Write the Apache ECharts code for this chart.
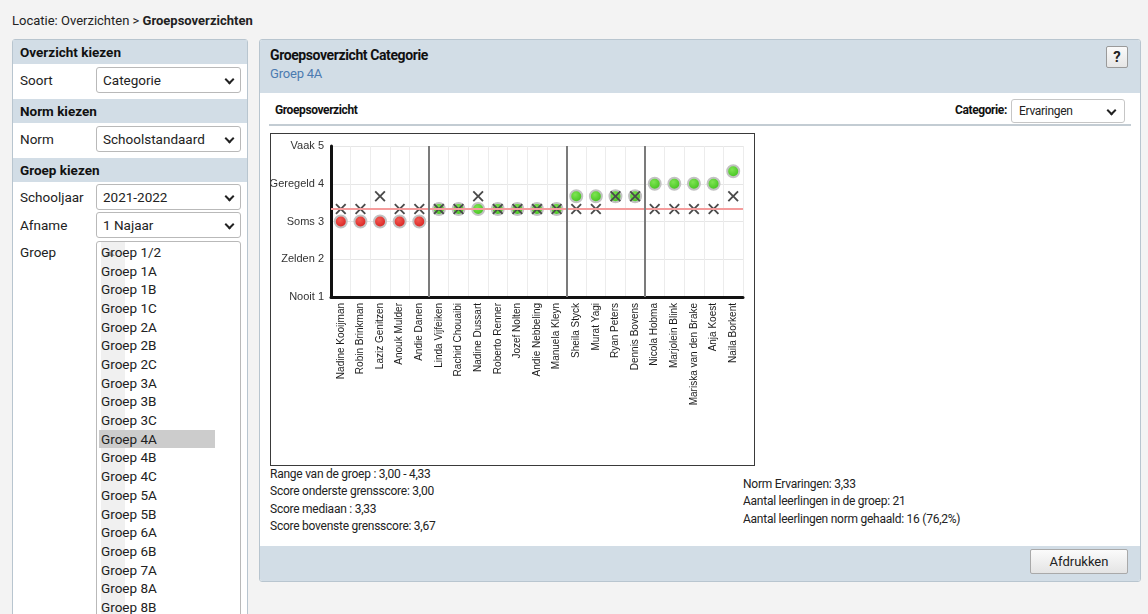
<!DOCTYPE html>
<html>
<head>
<meta charset="utf-8">
<script src="https://cdn.jsdelivr.net/npm/echarts@6/dist/echarts.min.js"></script>
<style>
  html,body{margin:0;padding:0;}
  body{width:1148px;height:614px;overflow:hidden;background:#f3f3f3;font-family:Roboto,"Liberation Sans",sans-serif;color:#222;position:relative;}
  .abs{position:absolute;}
  .crumb{left:12px;top:13px;font-size:13px;color:#222;}
  .crumb b{font-weight:700;}
  .lp{left:12px;top:39px;width:234px;height:600px;background:#fff;border:1px solid #b8c5cf;border-radius:3px;}
  .hdr{position:absolute;left:0;width:234px;height:24px;background:#d2dde6;font-weight:700;font-size:13.5px;line-height:24px;padding-left:7px;box-sizing:border-box;color:#111;}
  .lbl{position:absolute;left:7px;font-size:13.5px;color:#222;}
  .sel{position:absolute;left:83px;width:145px;height:26px;border:1px solid #b9b9b9;border-radius:3px;box-sizing:border-box;font-size:13.5px;line-height:24px;padding-left:6px;background:#fff;color:#222;}
  .chev{position:absolute;right:7px;top:8px;width:7px;height:7px;border-right:2px solid #222;border-bottom:2px solid #222;transform:rotate(45deg);box-sizing:border-box;}
  .list{position:absolute;left:83px;top:201px;width:145px;height:420px;border:1px solid #b9b9b9;border-radius:3px;box-sizing:border-box;background:#fff;overflow:hidden;}
  .list div{position:absolute;left:4px;font-size:13.5px;line-height:18px;color:#222;}
  .scroll{position:absolute;right:0;top:0;width:24px;height:420px;background:#f0f0f0;}
  .tri{position:absolute;left:7px;top:9px;width:0;height:0;border-left:5px solid transparent;border-right:5px solid transparent;border-bottom:5px solid #a8a8a8;}
  .mp{left:259px;top:39px;width:880px;height:541px;background:#fff;border:1px solid #b8c5cf;border-radius:3px;overflow:hidden;}
  .mh{position:absolute;left:0;top:0;width:880px;height:53px;background:#d2dde6;}
  .mf{position:absolute;left:0;top:506px;width:880px;height:35px;background:#d2dde6;}
  .stat{font-size:12px;letter-spacing:-0.25px;color:#222;line-height:17.3px;}
</style>
</head>
<body>
<div class="abs crumb">Locatie: Overzichten &gt; <b>Groepsoverzichten</b></div>

<div class="abs lp">
  <div class="hdr" style="top:0">Overzicht kiezen</div>
  <div class="lbl" style="top:32px">Soort</div>
  <div class="sel" style="top:27px">Categorie<span class="chev"></span></div>
  <div class="hdr" style="top:59px">Norm kiezen</div>
  <div class="lbl" style="top:91px">Norm</div>
  <div class="sel" style="top:86px">Schoolstandaard<span class="chev"></span></div>
  <div class="hdr" style="top:118px">Groep kiezen</div>
  <div class="lbl" style="top:149px">Schooljaar</div>
  <div class="sel" style="top:144px">2021-2022<span class="chev"></span></div>
  <div class="lbl" style="top:177px">Afname</div>
  <div class="sel" style="top:172px">1 Najaar<span class="chev"></span></div>
  <div class="lbl" style="top:204px">Groep</div>
  <div class="list" id="list"><div class="scroll"><div class="tri"></div></div></div>
</div>

<div class="abs mp">
  <div class="mh">
    <div class="abs" style="left:10px;top:7px;font-size:14px;font-weight:700;letter-spacing:-0.4px;color:#111;">Groepsoverzicht Categorie</div>
    <div class="abs" style="left:10px;top:26px;font-size:13px;color:#4c7bb0;letter-spacing:-0.2px;">Groep 4A</div>
    <div class="abs" style="left:846px;top:6px;width:22px;height:22px;box-sizing:border-box;border:1px solid #9a9a9a;border-radius:2px;background:linear-gradient(#fafafa,#e6e6e6);font-weight:700;font-size:15px;line-height:20px;text-align:center;color:#222;">?</div>
  </div>
  <div class="abs" style="left:15px;top:63px;font-size:12px;font-weight:700;letter-spacing:-0.4px;color:#111;">Groepsoverzicht</div>
  <div class="abs" style="left:695px;top:63px;font-size:12px;font-weight:700;letter-spacing:-0.4px;color:#111;">Categorie:</div>
  <div class="abs" style="left:751px;top:59px;width:114px;height:24px;border:1px solid #c6c6c6;border-radius:3px;box-sizing:border-box;font-size:12px;line-height:22px;padding-left:7px;letter-spacing:-0.3px;">Ervaringen<span class="chev" style="top:7px;right:9px"></span></div>
  <div class="abs" style="left:9px;top:84px;width:862px;height:2px;background:#c3ccd3;"></div>
  <div class="abs" style="left:10px;top:93px;width:485px;height:333px;border:1px solid #3a3a3a;box-sizing:border-box;">
    <div id="chart" style="width:483px;height:331px;"></div>
  </div>
  <div class="abs stat" style="left:10px;top:426px;">Range van de groep : 3,00 - 4,33<br>Score onderste grensscore: 3,00<br>Score mediaan : 3,33<br>Score bovenste grensscore: 3,67</div>
  <div class="abs stat" style="left:483px;top:436px;">Norm Ervaringen: 3,33<br>Aantal leerlingen in de groep: 21<br>Aantal leerlingen norm gehaald: 16 (76,2%)</div>
  <div class="mf">
    <div class="abs" style="left:770px;top:3px;width:98px;height:25px;box-sizing:border-box;border:1px solid #a9a9a9;border-radius:2px;background:linear-gradient(#fbfbfb,#e4e4e4);font-size:13px;line-height:23px;text-align:center;color:#222;">Afdrukken</div>
  </div>
</div>

<script>
// ---- data ----
var groupList = ['Groep 1/2','Groep 1A','Groep 1B','Groep 1C','Groep 2A','Groep 2B','Groep 2C','Groep 3A','Groep 3B','Groep 3C','Groep 4A','Groep 4B','Groep 4C','Groep 5A','Groep 5B','Groep 6A','Groep 6B','Groep 7A','Groep 8A','Groep 8B'];
var selectedGroup = 'Groep 4A';

var students = ['Nadine Kooijman','Robin Brinkman','Laziz Genitzen','Anouk Mulder','Andie Danen',
  'Linda Vijfeiken','Rachid Chouaibi','Nadine Dussart','Roberto Renner','Jozef Nolten','Andie Nebbeling','Manuela Kleyn',
  'Sheila Styck','Murat Yagi','Ryan Peters','Dennis Bovens',
  'Nicola Hobma','Marjolein Blink','Mariska van den Brake','Anja Koest','Naila Borkent'];
var scores = [3.00,3.00,3.00,3.00,3.00, 3.33,3.33,3.33,3.33,3.33,3.33,3.33, 3.67,3.67,3.67,3.67, 4.00,4.00,4.00,4.00,4.33];
var crossScores = [3.33,3.33,3.67,3.33,3.33, 3.33,3.33,3.67,3.33,3.33,3.33,3.33, 3.33,3.33,3.67,3.67, 3.33,3.33,3.33,3.33,3.67];
var norm = 3.33;
var dividerAfter = [4, 11, 15];
var yLabels = ['Nooit 1','Zelden 2','Soms 3','Geregeld 4','Vaak 5'];

// ---- list box ----
var list = document.getElementById('list');
groupList.forEach(function(g, i){
  var d = document.createElement('div');
  d.textContent = g;
  d.style.top = (1 + i*18.68) + 'px';
  if (g === selectedGroup) { d.style.background = '#cccccc'; d.style.left = '2px'; d.style.paddingLeft = '2px'; d.style.width = '114px'; }
  list.appendChild(d);
});

// ---- chart ----
var red = {type:'radial',x:0.42,y:0.38,r:0.62,colorStops:[{offset:0,color:'#f45a52'},{offset:1,color:'#d41c1c'}]};
var green = {type:'radial',x:0.42,y:0.38,r:0.62,colorStops:[{offset:0,color:'#7ee452'},{offset:1,color:'#3cbf18'}]};
var xPath = 'path://M0,1.2 L1.2,0 L5,3.8 L8.8,0 L10,1.2 L6.2,5 L10,8.8 L8.8,10 L5,6.2 L1.2,10 L0,8.8 L3.8,5 Z';

var chart = echarts.init(document.getElementById('chart'), null, {renderer:'canvas'});
chart.setOption({
  animation:false,
  grid:{left:60, top:12, right:11, bottom:168, containLabel:false, outerBoundsMode:'none'},
  xAxis:[{
    type:'category', data:students, boundaryGap:true,
    axisLine:{show:true, onZero:false, lineStyle:{color:'#111', width:3}},
    axisTick:{show:false},
    axisLabel:{rotate:90, interval:0, fontSize:10, color:'#1a1a1a', margin:6, fontFamily:'Liberation Sans, Arial, sans-serif'},
    splitLine:{show:true, interval:0, lineStyle:{color:'#ececec', width:1}}
  },{
    type:'value', min:-0.5, max:students.length-0.5, show:false,
    axisLine:{onZero:false}, splitLine:{show:false}
  }],
  yAxis:{
    type:'value', min:1, max:5, interval:1,
    axisLine:{show:true, onZero:false, lineStyle:{color:'#111', width:3}},
    axisTick:{show:false},
    axisLabel:{fontSize:11, color:'#333', margin:7, fontFamily:'Liberation Sans, Arial, sans-serif',
      formatter:function(v){ return yLabels[Math.round(v)-1]; }},
    splitLine:{show:true, lineStyle:{color:'#e6e6e6', width:1}}
  },
  series:[{
    type:'scatter', xAxisIndex:1, data:[], z:1, silent:true,
    markLine:{silent:true, symbol:['none','none'], label:{show:false}, animation:false,
      data:[{yAxis:norm, lineStyle:{color:'#f49c9c', width:2, type:'solid'}}]
        .concat(dividerAfter.map(function(i){ return {xAxis:i+0.5, lineStyle:{color:'#7b7b7b', width:2, type:'solid'}}; }))
    }
  },{
    type:'scatter', name:'score', z:3, silent:true,
    symbol:'circle', symbolSize:12,
    data:scores,
    itemStyle:{opacity:1, borderColor:'#c2c2c2', borderWidth:2,
      color:function(p){ return p.value >= norm ? green : red; }}
  },{
    type:'scatter', name:'kruis', z:4, silent:true,
    symbol:xPath, symbolSize:11, symbolKeepAspect:true,
    data:crossScores,
    itemStyle:{opacity:1, color:'#4a4a4a'}
  }]
});
</script>
</body>
</html>
